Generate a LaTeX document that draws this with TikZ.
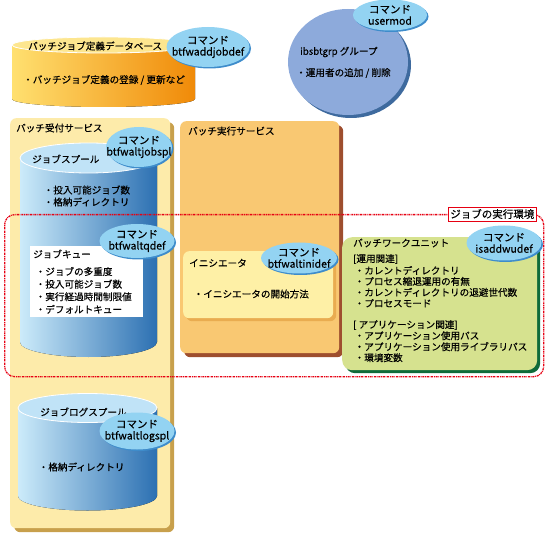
\documentclass[tikz,border=0pt]{standalone}
\usepackage{fontspec}
\setmainfont{Noto Sans CJK JP}[FakeBold=0.35]
\usepackage{xcolor}
\usepackage{tikz}
\usetikzlibrary{positioning,shapes.geometric,shadows}
\definecolor{cmdfill}{HTML}{93D3F2}
\definecolor{cmdedge}{HTML}{3E8CCB}
\definecolor{dbleft}{HTML}{FFE070}
\definecolor{dbright}{HTML}{F08A08}
\definecolor{dbtop}{HTML}{FDE68F}
\definecolor{splleft}{HTML}{CCEBFA}
\definecolor{splright}{HTML}{2C70B2}
\definecolor{spltop}{HTML}{C0E3F7}
\definecolor{grpfill}{HTML}{8DAADB}
\definecolor{grpedge}{HTML}{3E6A9E}
\definecolor{recvfill}{HTML}{FDEBAA}
\definecolor{recvedge}{HTML}{C8A04C}
\definecolor{execfill}{HTML}{F9C872}
\definecolor{execedge}{HTML}{9E4E2E}
\definecolor{inifill}{HTML}{FEF0A6}
\definecolor{iniedge}{HTML}{E9AC50}
\definecolor{bwufill}{HTML}{D6E28F}
\definecolor{bwuedge}{HTML}{0F6B3A}
\definecolor{envred}{HTML}{E60012}
\newcommand{\txtsz}{\fontsize{9.6pt}{12pt}\selectfont}
\newcommand{\cmdsz}{\fontsize{10.5pt}{11.5pt}\selectfont}
\tikzset{
  cmd/.style={ellipse,fill=cmdfill,inner xsep=-16pt,inner ysep=-8pt,align=center,
    font=\cmdsz,minimum width=75pt,minimum height=34pt,
    drop shadow={fill=cmdedge,opacity=1,shadow xshift=1.5pt,shadow yshift=-1.5pt}},
  panel/.style={rectangle,rounded corners=6pt,anchor=north west,inner sep=0pt},
  psh/.style={drop shadow={fill=#1,opacity=1,shadow xshift=4pt,shadow yshift=-4pt}},
  txt/.style={anchor=west,inner sep=0pt,font=\txtsz},
  envbox/.style={rectangle,rounded corners=10pt,anchor=north west,inner sep=0pt,
    draw=envred,line width=1.3pt,dash pattern=on 2pt off 0.8pt on 0.8pt off 0.8pt},
  envtag/.style={draw=envred,fill=white,line width=0.6pt,inner xsep=2pt,inner ysep=2pt,
    font=\fontsize{10.5pt}{12pt}\selectfont},
}
\begin{document}
\begin{tikzpicture}[x=1pt,y=-1pt]
  \useasboundingbox (0,0) rectangle (548,534);
  % definition database
  \fill[left color=dbleft,right color=dbright] (12,45) -- (12,99)
    arc[start angle=180,end angle=360,x radius=91.5pt,y radius=8pt] -- (195,45) -- cycle;
  \filldraw[fill=dbtop,draw=white,line width=0.8pt] (103.5,45) ellipse[x radius=91.5pt,y radius=8pt];
  \node[txt] (dbname) at (28,46) {バッチジョブ定義データベース};
  \node[txt] (dbitem) at (23,80) {・バッチジョブ定義の登録 / 更新など};
  \node[cmd,minimum width=83pt,minimum height=40pt] (c1) at (208,47) {コマンド\\btfwaddjobdef};
  % group
  \node[ellipse,fill=grpfill,minimum width=120pt,minimum height=106pt,
    drop shadow={fill=grpedge,opacity=1,shadow xshift=3pt,shadow yshift=-3pt}] (grp) at (348,62) {};
  \node[txt] (grpname) at (300,52) {ibsbtgrp グループ};
  \node[txt] (grpitem) at (296,73) {・運用者の追加 / 削除};
  \node[cmd,minimum width=74pt,minimum height=31pt] (c2) at (390,15) {コマンド\\usermod};
  % services
  \node[panel,fill=recvfill,psh=recvedge,minimum width=160pt,minimum height=410pt] (recv) at (10,118) {};
  \node[panel,fill=execfill,psh=execedge,minimum width=159pt,minimum height=232pt] (exec) at (180,121) {};
  \node[txt] (recvname) at (16,128) {バッチ受付サービス};
  \node[txt] (execname) at (188,131) {バッチ実行サービス};
  % job spool
  \fill[left color=splleft,right color=splright] (20,158) -- (20,342)
    arc[start angle=180,end angle=360,x radius=68.5pt,y radius=15pt] -- (157,158) -- cycle;
  \filldraw[fill=spltop,draw=white,line width=0.8pt] (88.5,158) ellipse[x radius=68.5pt,y radius=15pt];
  \node[txt] (splname) at (32,159) {ジョブスプール};
  \node[txt] (spl1) at (43.5,190) {・投入可能ジョブ数};
  \node[txt] (spl2) at (43.5,202) {・格納ディレクトリ};
  \node[cmd,minimum width=66pt,minimum height=40pt] (c3) at (139,147) {コマンド\\btfwaltjobspl};
  % job queue
  \node[panel,rounded corners=0pt,fill=white,minimum width=113pt,minimum height=71pt] (jq) at (30,246) {};
  \node[txt] (jqname) at (33,254) {ジョブキュー};
  \foreach \t [count=\i from 0] in {・ジョブの多重度,・投入可能ジョブ数,・実行経過時間制限値,・デフォルトキュー}
    \node[txt] (jq-\i) at (35.5,{271.5+12.6*\i}) {\t};
  \node[cmd] (c4) at (137,241) {コマンド\\btfwaltqdef};
  % job log spool
  \fill[left color=splleft,right color=splright] (18,408) -- (18,496)
    arc[start angle=180,end angle=360,x radius=69.5pt,y radius=14.5pt] -- (157,408) -- cycle;
  \filldraw[fill=spltop,draw=white,line width=0.8pt] (87.5,408) ellipse[x radius=69.5pt,y radius=14.5pt];
  \node[txt] (logname) at (40,412) {ジョブログスプール};
  \node[txt] (log1) at (38.5,467) {・格納ディレクトリ};
  \node[cmd,minimum height=37pt] (c7) at (137,431) {コマンド\\btfwaltlogspl};
  % initiator
  \node[panel,fill=inifill,drop shadow={fill=iniedge,opacity=1,shadow xshift=3pt,shadow yshift=-3pt},
    minimum width=150pt,minimum height=67pt] (ini) at (183,251) {};
  \node[txt] (ininame) at (189,263) {イニシエータ};
  \node[txt] (ini1) at (193.5,294) {・イニシエータの開始方法};
  \node[cmd,minimum width=76pt,minimum height=31pt] (c5) at (299,258) {コマンド\\btfwaltinidef};
  % batch work unit
  \node[panel,rounded corners=10pt,fill=bwufill,drop shadow={fill=bwuedge,opacity=1,shadow xshift=3pt,shadow yshift=-3pt},
    minimum width=195pt,minimum height=133pt] (bwu) at (342,237) {};
  \node[txt] (bwuname) at (353,243) {バッチワークユニット};
  \node[txt] (ops) at (353,259) {[運用関連]};
  \foreach \t [count=\i from 0] in {・カレントディレクトリ,・プロセス縮退運用の有無,・カレントディレクトリの退避世代数,・プロセスモード}
    \node[txt] (ops-\i) at (354.5,{270.5+10.9*\i}) {\t};
  \node[txt] (app) at (353,325) {[ アプリケーション関連]};
  \foreach \t [count=\i from 0] in {・アプリケーション使用パス,・アプリケーション使用ライブラリパス,・環境変数}
    \node[txt] (app-\i) at (354.5,{335.7+11*\i}) {\t};
  \node[cmd,minimum height=35pt] (c6) at (504,243) {コマンド\\isaddwudef};
  % execution environment
  \node[envbox,minimum width=539pt,minimum height=162pt] (env) at (4,214) {};
  \node[envtag] (envtag) at ([xshift=-52pt]env.north east) {ジョブの実行環境};
\end{tikzpicture}
\end{document}
